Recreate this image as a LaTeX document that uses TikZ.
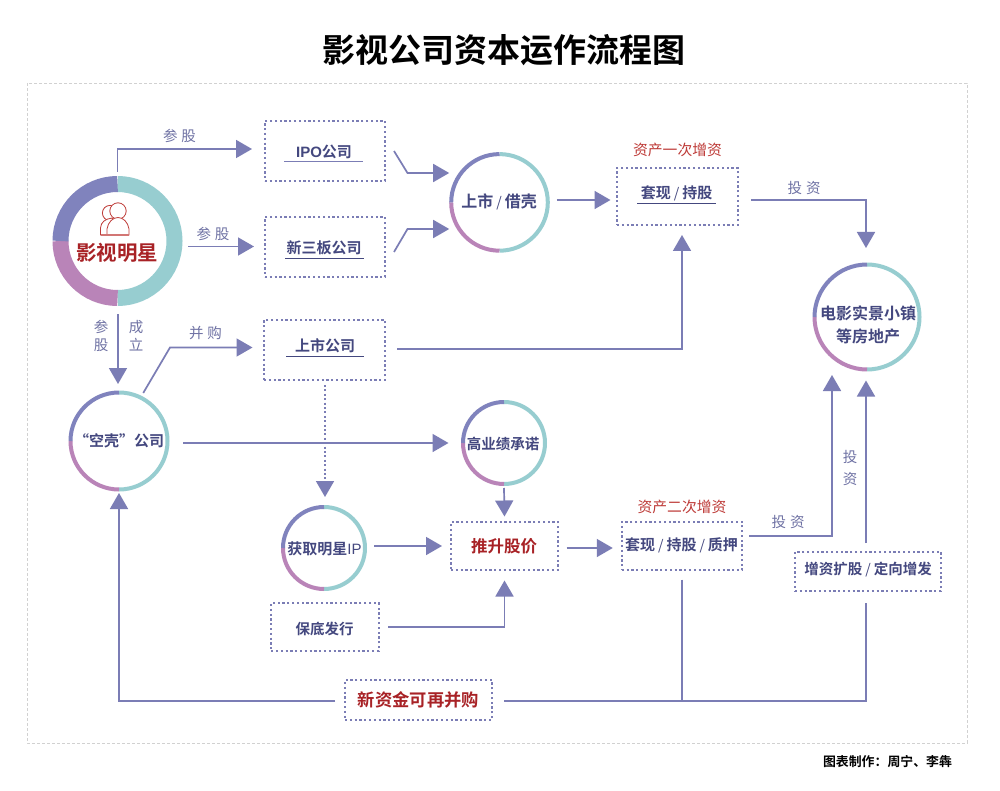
\documentclass[tikz,border=0pt]{standalone}
\usepackage{fontspec}
\setmainfont{Noto Sans CJK SC}
\newfontfamily\cjkb{Noto Sans CJK SC Bold}
\newfontfamily\latn{Liberation Sans}
\usetikzlibrary{arrows.meta}
\definecolor{flow}{HTML}{7B7DB5}
\definecolor{navy}{HTML}{44487F}
\definecolor{lab}{HTML}{6F72A4}
\definecolor{teal}{HTML}{97CDD0}
\definecolor{pur}{HTML}{8083BD}
\definecolor{pink}{HTML}{B984B8}
\definecolor{red1}{HTML}{A82226}
\definecolor{red2}{HTML}{BE3B38}
\tikzset{x=1pt,y=-1pt,
 flowline/.style={draw=flow,line width=1.7pt,-{Triangle[length=16pt,width=18pt,fill=flow]}},
 plainline/.style={draw=flow,line width=1.7pt},
 dbox/.style={draw=flow,line width=1.7pt,dash pattern=on 2.2pt off 2.6pt,inner sep=0pt,outer sep=0pt,rectangle},
 ringnode/.style={circle,inner sep=0pt,outer sep=0pt},
 bt/.style={font=\cjkb\fontsize{15}{18}\selectfont,text=navy,inner sep=0pt},
 rt/.style={font=\cjkb\fontsize{16.5}{20}\selectfont,text=red1,inner sep=0pt},
 lt/.style={font=\fontsize{14.5}{17}\selectfont,text=lab,inner sep=0pt},
 rl/.style={font=\fontsize{14.8}{17}\selectfont,text=red2,inner sep=0pt},
 ul/.style={draw=navy,line width=0.9pt},
}
\newcommand{\ringat}[5]{% name cx cy r width(pt)
 \draw[teal,line width=#5pt] (#2,#3-#4) arc[start angle=-90,end angle=90,radius=#4];
 \draw[pink,line width=#5pt] (#2,#3+#4) arc[start angle=90,end angle=180,radius=#4];
 \draw[pur,line width=#5pt] (#2-#4,#3) arc[start angle=180,end angle=270,radius=#4];
 \pgfmathsetmacro{\ringsize}{2*#4+#5}
 \node[ringnode,minimum size=\ringsize pt] (#1) at (#2,#3) {};
}
\newcommand{\slh}{\hspace{3pt}{\fontsize{14}{14}\selectfont\rmfamily /}\hspace{3pt}}
\begin{document}
\begin{tikzpicture}
\useasboundingbox (0,0) rectangle (1000,791);
\fill[white] (0,0) rectangle (1000,791);
\draw[draw=black!18,line width=0.7pt,dash pattern=on 3pt off 2pt] (27,83) rectangle (967,743);
\node[font=\cjkb\fontsize{33}{38}\selectfont,inner sep=0pt] (title) at (504,50) {影视公司资本运作流程图};
% rings
\ringat{star}{117.5}{241}{57}{16}
\ringat{listed}{499.5}{202.4}{48.3}{4}
\ringat{town}{867}{317}{52.5}{4}
\ringat{shell}{119}{441}{48.5}{4}
\ringat{perf}{504}{443}{41}{4}
\ringat{ip}{324}{548}{41}{4}
% person icon
\draw[red2,line width=0.8pt,fill=white] (110,213) circle (7.6);
\draw[red2,line width=0.8pt,fill=white] (100.5,235) -- (100.5,228) .. controls (101,222) and (105,219) .. (112,218) -- (122,235) -- cycle;
\draw[red2,line width=0.8pt,fill=white] (118,211) circle (8.2);
\draw[red2,line width=0.8pt,fill=white] (107,235) -- (107,229) .. controls (108,222) and (113,217.5) .. (118,217.5) .. controls (123,217.5) and (128,222) .. (129,229) -- (129,235) -- cycle;
\draw[red2!70,line width=1.2pt] (100.5,235) -- (129,235);
\node[rt,font=\cjkb\fontsize{20.5}{24}\selectfont] (starT) at (117,253) {影视明星};
% boxes
\node[dbox,minimum width=120,minimum height=60] (ipoB) at (325,151) {};
\node[dbox,minimum width=120,minimum height=60] (xsbB) at (325,247) {};
\node[dbox,minimum width=121,minimum height=60] (mergB) at (324.5,350) {};
\node[dbox,minimum width=121,minimum height=57] (cash1) at (677.5,196.5) {};
\node[dbox,minimum width=107,minimum height=48] (push) at (504.5,546) {};
\node[dbox,minimum width=120.5,minimum height=48] (cash2) at (682,546) {};
\node[dbox,minimum width=107.5,minimum height=48] (baodi) at (325,627) {};
\node[dbox,minimum width=146,minimum height=39] (zz) at (868,571.5) {};
\node[dbox,minimum width=147,minimum height=40] (xzj) at (418.5,700) {};
% box text
\node[bt] (ipoT) at (324,152) {{\latn\bfseries IPO}公司};
\draw[ul,draw=flow] (284,161.5) -- (363,161.5);
\node[bt] (xsbT) at (324,248) {新三板公司};
\draw[ul] (285,258.5) -- (364,258.5);
\node[bt] (mergT) at (325,346) {上市公司};
\draw[ul] (286,356) -- (364,356);
\node[bt] (cash1T) at (676.5,193) {套现\slh 持股};
\draw[ul] (637,203.5) -- (716,203.5);
\node[rt] (pushT) at (504,546) {推升股价};
\node[bt] (cash2T) at (681.5,545) {套现\slh 持股\slh 质押};
\node[bt,font=\cjkb\fontsize{14.5}{18}\selectfont] (baodiT) at (324.5,629) {保底发行};
\node[bt,font=\cjkb\fontsize{14.5}{18}\selectfont] (zzT) at (868,570) {增资扩股\slh 定向增发};
\node[rt,font=\cjkb\fontsize{17.3}{20}\selectfont] (xzjT) at (418.5,700) {新资金可再并购};
% circle text
\node[bt,font=\cjkb\fontsize{16}{18}\selectfont] (listedT) at (499,202) {上市\slh 借壳};
\node[bt,font=\cjkb\fontsize{16}{20}\selectfont,align=center] (townT) at (868,325) {电影实景小镇\\[3pt]等房地产};
\node[bt] (shellT) at (119,441) {“空壳”公司};
\node[bt,font=\cjkb\fontsize{14.5}{18}\selectfont] (perfT) at (503,444) {高业绩承诺};
\node[bt] (ipT) at (324.5,549) {获取明星{\latn IP}};
% red labels
\node[rl] (r1) at (677.5,150) {资产一次增资};
\node[rl] (r2) at (682,507) {资产二次增资};
% labels
\node[lt] (l1) at (179.5,136) {参\hspace{4pt}股};
\node[lt] (l2) at (213,234) {参\hspace{4pt}股};
\node[lt] (l3) at (205.5,333) {并\hspace{4pt}购};
\node[lt,align=center,font=\fontsize{14.5}{18}\selectfont] (l4) at (101,335.5) {参\\股};
\node[lt,align=center,font=\fontsize{14.5}{18}\selectfont] (l5) at (136,335.5) {成\\立};
\node[lt] (l6) at (804,188) {投\hspace{4pt}资};
\node[lt] (l7) at (788,522) {投\hspace{4pt}资};
\node[lt,align=center,font=\fontsize{14.5}{22}\selectfont] (l8) at (850,468) {投\\资};
\node[font=\cjkb\fontsize{12.9}{15}\selectfont,inner sep=0pt] (credit) at (887.5,762) {图表制作：周宁、李犇};
% connectors
\draw[flowline] ([yshift=4pt]star.north) |- ([xshift=-13pt,yshift=2pt]ipoB.west);
\draw[flowline] ([xshift=5.5pt,yshift=-5.5pt]star.east) -- ([xshift=-11pt,yshift=0.5pt]xsbB.west);
\draw[flowline] ([xshift=0.5pt,yshift=-8pt]star.south) -- ([xshift=-1pt,yshift=6.5pt]shell.north);
\coordinate (j1) at (170,347.5);
\draw[flowline] ([xshift=-1pt,yshift=4.3pt]shell.60) -- (j1) -- ([xshift=-11.5pt,yshift=2.5pt]mergB.west);
\coordinate (j2) at (407.5,173);
\draw[flowline] ([xshift=9pt]ipoB.east) -- (j2) -- (j2 -| listed.west);
\coordinate (j3) at (407.5,229);
\draw[flowline] ([xshift=9pt,yshift=-5pt]xsbB.east) -- (j3) -- (j3 -| listed.west);
\draw[flowline] ([xshift=7pt,yshift=2.4pt]listed.east) -- ([xshift=-6.5pt,yshift=-3.5pt]cash1.west);
\draw[flowline] ([xshift=12pt,yshift=1pt]mergB.east) -| ([xshift=4.5pt,yshift=-10pt]cash1.south);
\draw[flowline] ([xshift=13pt,yshift=-3.3pt]cash1.east) -| ([xshift=-1pt,yshift=14.5pt]town.north);
\draw[flowline] ([xshift=13.5pt,yshift=-2pt]shell.east) -- ([xshift=-12.5pt]perf.west);
\draw[flowline,dash pattern=on 2pt off 2.4pt] ([xshift=0.5pt,yshift=-5pt]mergB.south) -- ([xshift=1pt,yshift=8pt]ip.north);
\draw[flowline] ([yshift=-2pt]perf.south) -- ([yshift=5.5pt]push.north);
\draw[flowline] ([xshift=7pt,yshift=2pt]ip.east) -- ([xshift=-9pt]push.west);
\draw[flowline] ([xshift=9.5pt]baodi.east) -| ([yshift=-10.5pt]push.south);
\draw[flowline] ([xshift=8.5pt,yshift=-2pt]push.east) -- ([xshift=-9pt,yshift=-2pt]cash2.west);
\draw[flowline] ([xshift=7pt,yshift=10pt]cash2.east) -| ([xshift=-35pt,yshift=-3.5pt]town.south);
\draw[flowline] ([xshift=-2pt,yshift=9pt]zz.north) -- ([xshift=-1pt,yshift=-9pt]town.south);
\draw[flowline] ([xshift=-10pt,yshift=-1pt]xzj.west) -| ([yshift=-1.5pt]shell.south);
\draw[plainline] ([xshift=12pt,yshift=-1pt]xzj.east) -| ([xshift=-2pt,yshift=-12pt]zz.south);
\draw[plainline] ([yshift=-9.5pt]cash2.south) -- ([yshift=-1pt]cash2.south |- xzj.east);
\end{tikzpicture}
\end{document}
